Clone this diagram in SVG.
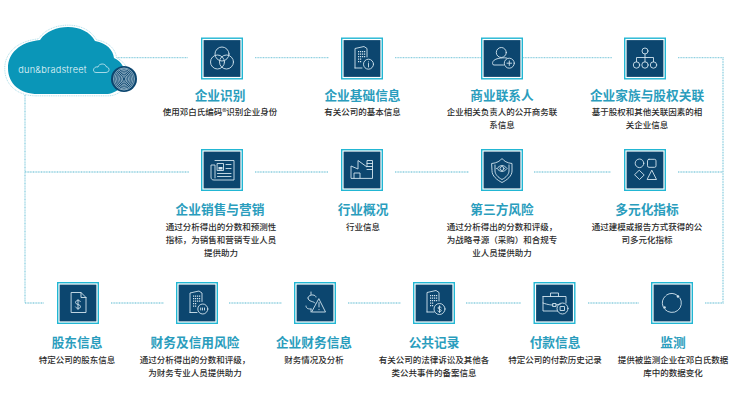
<svg xmlns="http://www.w3.org/2000/svg" width="735" height="420" viewBox="0 0 735 420">
<style>
text{font-family:"Noto Sans CJK SC","Noto Sans",sans-serif;text-anchor:middle}
.t{font-size:12.7px;font-weight:700;fill:#2a9dbd}
.d{font-size:8.5px;font-weight:500;fill:#2b2b2b}
.i{fill:none;stroke:#d3e4ee;stroke-width:.9;stroke-linecap:round;stroke-linejoin:round}
.f{fill:#d3e4ee;stroke:none}
.c{fill:none;stroke:#8fd0e0;stroke-width:1.3;stroke-dasharray:1 .6}
.o{fill:#fff;stroke:#22b6d3;stroke-width:1.4}
.n{fill:#0c466f}
</style>
<defs>
<g id="frame"><rect class="o" x="-20.300" y="-20.300" width="40.600" height="40.600"/><rect class="n" x="-18.400" y="-18.400" width="36.800" height="36.800"/></g>
<g id="tower"><path class="i" d="M-7 10V-9.500L2-11.500l3 2V-1M-7 10H0"/><path class="f" d="M-4-7h1.200v1.200H-4zM-2-7h1.200v1.200H-2zM0-7h1.200v1.200H0zM2-7h1.200v1.200H2zM-4-4.500h1.200v1.200H-4zM-2-4.500h1.200v1.200H-2zM0-4.500h1.200v1.200H0zM2-4.500h1.200v1.200H2zM-4-2h1.200v1.200H-4zM-2-2h1.200v1.200H-2zM0-2h1.200v1.200H0zM2-2h1.200v1.200H2zM-4 .5h1.200v1.200H-4zM-2 .5h1.200v1.200H-2zM-4 3h1.200v1.200H-4zM-2 3h1.200v1.200H-2z"/></g>
</defs>
<g id="connectors">
<path class="c" d="M113 57.700H188M255 57.700H329M395 57.700H481M520 57.700H612M678 57.700H723V303H705"/>
<path class="c" d="M25 95V303H44M25 172H189M255 172H328M395 172H469M534 172H611M678 172H723"/>
<path class="c" d="M111 303H164M229 303H282M348 303H401M466 303H521M588 303H639"/>
</g>
<g id="cloud">
<path d="M38 94C20 94 8 84 8 68C8 53 20 42 40 40C46 31 57 27 68 27C80 27 90 32 95 41C107 43 113 50 114 58C122 62 125 68 125 75C125 86 116 94 106 94Z" transform="translate(67 60.500) scale(1.055) translate(-67 -60.500)" fill="#fff" stroke="#a9dbe7" stroke-width=".8" stroke-dasharray="1 .7"/>
<path d="M38 94C20 94 8 84 8 68C8 53 20 42 40 40C46 31 57 27 68 27C80 27 90 32 95 41C107 43 113 50 114 58C122 62 125 68 125 75C125 86 116 94 106 94Z" fill="#0a96b8"/>
<text x="52.500" y="73" style="font-family:'Inter','Liberation Sans',sans-serif;font-size:9.200px;font-weight:300;fill:#e8f6fa;letter-spacing:.2px">dun&amp;bradstreet</text>
<path d="M96 72.500H106C110 72.500 110 67 106.500 67C105.500 63 99 63 98 67C93 66 92 72.500 96 72.500Z" fill="none" stroke="#e8f6fa" stroke-width=".7"/>
<circle cx="124" cy="79" r="13" fill="#0c466f"/>
<g fill="none" stroke="#d6e9f1" stroke-width=".6"><ellipse cx="124" cy="79" rx="1.500" ry="2.500"/><ellipse cx="124" cy="79" rx="3" ry="4"/><ellipse cx="124" cy="79" rx="4.500" ry="5.500"/><ellipse cx="124" cy="79" rx="6" ry="7"/><ellipse cx="124" cy="79" rx="7.500" ry="8.500"/><ellipse cx="124" cy="79" rx="9" ry="10"/><ellipse cx="124" cy="79" rx="10.500" ry="11"/></g>
</g>
<g id="node1" transform="translate(222 58.500)"><use href="#frame"/><circle class="i" cy="-4.500" r="7"/><circle class="i" cx="-4.500" cy="3.500" r="7"/><circle class="i" cx="4.500" cy="3.500" r="7"/></g>
<text class="t" x="220" y="99.500">企业识别</text><text class="d" x="220" y="115">使用邓白氏编码®识别企业身份</text>
<g id="node2" transform="translate(362 58.500)"><use href="#frame"/><use href="#tower" y="-.5"/><circle class="i" cx="6.500" cy="5.700" r="5"/><path class="i" d="M6.500 5v3.500M6.500 3.300v.2"/></g>
<text class="t" x="362.500" y="99.500">企业基础信息</text><text class="d" x="362.500" y="115">有关公司的基本信息</text>
<g id="node3" transform="translate(502 58.500)"><use href="#frame"/><circle class="i" cx="-.7" cy="-6" r="5"/><path class="i" d="M1.500 6.500H-8C-10 6.500-9.500 4-9 3C-7 -1 4 -1 5-.5"/><circle class="i" cx="7.300" cy="4.700" r="5"/><path class="i" d="M5 4.700h4.600M7.300 2.400V7"/></g>
<text class="t" x="502" y="99.500">商业联系人</text><text class="d" x="502" y="115">企业相关负责人的公开商务联</text><text class="d" x="502" y="128">系信息</text>
<g id="node4" transform="translate(645 58.500)"><use href="#frame"/><circle class="i" cy="-7.500" r="3"/><circle class="i" cx="-8.500" cy="6.500" r="3.200"/><circle class="i" cy="6.500" r="3.200"/><circle class="i" cx="8.500" cy="6.500" r="3.200"/><path class="i" d="M0-4.500V3.300M-8.500 3.300V-1H8.500V3.300"/></g>
<text class="t" x="647" y="99.500">企业家族与股权关联</text><text class="d" x="647" y="115">基于股权和其他关联因素的相</text><text class="d" x="647" y="128">关企业信息</text>
<g id="node5" transform="translate(222 170)"><use href="#frame"/><path class="i" d="M-7-9.500H12V10H-8C-10 10-11 9-11 7V-5H-7V8M-4.500-6.500h6v7h-6zM4-5.500h5M4-1.500h5M-4.500 3.500H9M-4.500 6.500H9"/><path class="f" d="M-3.500-3h4v2.500h-4z"/></g>
<text class="t" x="220" y="214">企业销售与营销</text><text class="d" x="221" y="230">通过分析得出的分数和预测性</text><text class="d" x="221" y="243">指标，为销售和营销专业人员</text><text class="d" x="221" y="256">提供助力</text>
<g id="node6" transform="translate(362 170)"><use href="#frame"/><path class="i" d="M-11 8V-4L-4-1V-9.500L5-3V-9.500H10.500V8ZM5-6.500h5.500M5-3.500h5.500M5-.5h5.500M-8 8V3H-2V8"/></g>
<text class="t" x="363" y="214">行业概况</text><text class="d" x="363" y="230">行业信息</text>
<g id="node7" transform="translate(502 170)"><use href="#frame"/><path class="i" d="M-10-6.500C-5-7 -2-9 0-11.500C2-9 5-7 10-6.500V1C10 6 5 10 0 12.500C-5 10 -10 6 -10 1Z"/><path class="i" d="M-7-5V1C-7 4 -4 7.500 0 9.500C4 7.500 7 4 7 1V-5"/><path class="i" d="M-5-1.500C-2-5.500 2-5.500 5-1.500C2 2.500 -2 2.500 -5-1.500Z"/><circle class="i" cy="-1.500" r="2"/></g>
<text class="t" x="502" y="214">第三方风险</text><text class="d" x="502" y="230">通过分析得出的分数和评级，</text><text class="d" x="502" y="243">为战略寻源（采购）和合规专</text><text class="d" x="502" y="256">业人员提供助力</text>
<g id="node8" transform="translate(645 170)"><use href="#frame"/><circle class="i" cx="-5.500" cy="-6.700" r="4.300"/><rect class="i" x="2.500" y="-10.700" width="8.500" height="8" rx="1.500"/><path class="i" d="M-5.500 .5L-.8 5-5.500 9.500-10.200 5ZM7 .5L11.500 9.500H2.500Z"/></g>
<text class="t" x="647" y="214">多元化指标</text><text class="d" x="647" y="230">通过建模或报告方式获得的公</text><text class="d" x="647" y="243">司多元化指标</text>
<g id="node9" transform="translate(78 303)"><use href="#frame"/><path class="i" d="M-6.500-10.500H3L8-5.500V9.500H-6.500ZM3-10.500V-5.500H8"/><path class="i" d="M2.500-1.500C1.500-3-2.500-3-2.500-.5C-2.500 2 2.500 1 2.500 3.500C2.500 6-1.500 6-2.500 4M0-3.500V6.500"/></g>
<text class="t" x="77" y="347">股东信息</text><text class="d" x="77" y="363">特定公司的股东信息</text>
<g id="node10" transform="translate(197 303)"><use href="#frame"/><use href="#tower" y="-.5"/><circle class="i" cx="5.800" cy="6" r="5"/><path class="i" d="M3.700 5v2M5.500 5v2M7.500 5v2"/></g>
<text class="t" x="195" y="347">财务及信用风险</text><text class="d" x="195" y="363">通过分析得出的分数和评级，</text><text class="d" x="195" y="376">为财务专业人员提供助力</text>
<g id="node11" transform="translate(315 303)"><use href="#frame"/><path class="i" d="M-7-5C-7-9 1-9 1-6M-7-5C-7-1 -1-2 0 0M-9 3C-9 6 -6 6 -4 6M-4-11V-8.500M-4 6V9"/><path class="i" d="M4-4L10.500 9H-3Z"/><path class="i" d="M4-.5V4M4 6.500v.2"/></g>
<text class="t" x="314" y="347">企业财务信息</text><text class="d" x="314" y="363">财务情况及分析</text>
<g id="node12" transform="translate(434 303)"><use href="#frame"/><use href="#tower" y="-1"/><circle class="i" cx="5.500" cy="6" r="5.500"/><path class="i" d="M7.200 4.500C6.500 3.500 4 3.500 4 5C4 6.500 7.200 6 7.200 7.500C7.200 9 4.500 9 3.800 8M5.500 2.800V9.500"/></g>
<text class="t" x="434" y="347">公共记录</text><text class="d" x="434" y="363">有关公司的法律诉讼及其他各</text><text class="d" x="434" y="376">类公共事件的备案信息</text>
<g id="node13" transform="translate(554.500 303)"><use href="#frame"/><path class="i" d="M-4-6.500V-10H4V-6.500M-11.500-6.500H11.500V0M-11.500-6.500V8H3M-11.500 0C-6 2 -3 2 -1.500 2M1.500 2L6 1"/><rect class="i" x="-1.500" y=".5" width="3" height="3"/><circle class="i" cx="8" cy="5.500" r="5.500"/><path class="i" d="M6 3.500h4v4H6z"/></g>
<text class="t" x="555" y="347">付款信息</text><text class="d" x="555" y="363">特定公司的付款历史记录</text>
<g id="node14" transform="translate(672 303)"><use href="#frame"/><path class="i" d="M-5.500-8A9.500 9.500 0 0 1 5.500-7.500M8 -5A9.500 9.500 0 0 1 -7 6.500M-9 3.500A9.500 9.500 0 0 1 -6.500-7"/><circle class="f" cx="6" cy="-6.500" r="1.300"/><circle class="f" cx="-7.500" cy="4.500" r="1.300"/></g>
<text class="t" x="673" y="347">监测</text><text class="d" x="673" y="363">提供被监测企业在邓白氏数据</text><text class="d" x="673" y="376">库中的数据变化</text>
</svg>
